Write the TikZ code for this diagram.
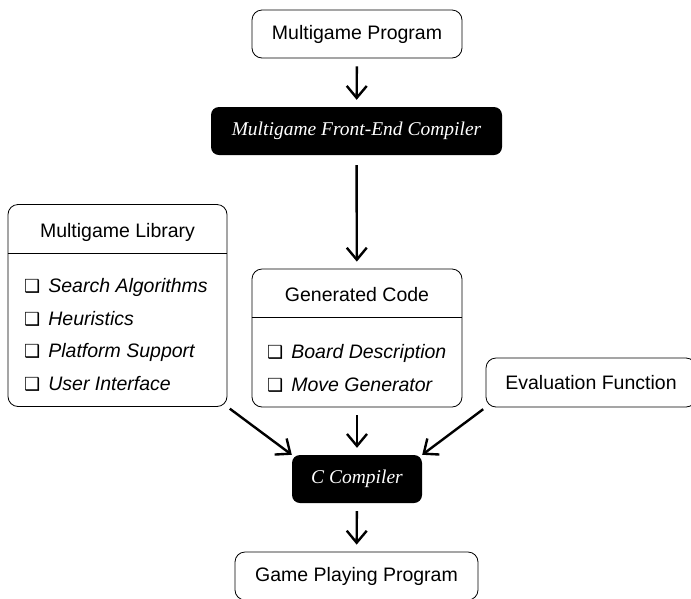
\documentclass[tikz,border=0pt]{standalone}
\usepackage{fontspec}
\setmainfont{Liberation Sans}
\newfontfamily\timesfont{Liberation Serif}
\newfontfamily\symfont{DejaVu Sans}
\usetikzlibrary{arrows.meta, positioning}
\newcommand{\chkbox}{{\symfont\fontsize{18}{18}\selectfont ❑}\hspace{8pt}}

\begin{document}
\begin{tikzpicture}[x=1pt, y=-1pt, font=\fontsize{19.5}{23}\selectfont,
    whitebox/.style={rectangle, draw, rounded corners=10pt, line width=0.8pt, inner sep=0pt},
    blackbox/.style={rectangle, fill=black, rounded corners=8pt, text=white, font=\fontsize{19.5}{23}\selectfont\timesfont\itshape},
    item/.style={anchor=base west, inner sep=0pt, font=\fontsize{19.5}{23}\selectfont\itshape},
    flow/.style={-{Straight Barb[length=12pt, width=20pt]}, line width=2.4pt, shorten <=8pt, shorten >=7pt}]
    \useasboundingbox (0,0) rectangle (691,598);
    % Nodes
    \node (prog) [whitebox, minimum width=210pt, minimum height=48pt] at (357,34) {Multigame Program};
    \node (front) [blackbox, minimum width=291pt, minimum height=48pt] at (356.5,131) {Multigame Front-End Compiler};
    \node (lib) [whitebox, minimum width=219pt, minimum height=202pt] at (117.5,305.5) {};
    \node (libtitle) at (117.5,232) {Multigame Library};
    \draw[line width=0.8pt] (lib.west |- 0,253) -- (lib.east |- 0,253);
    \foreach \t [count=\i] in {Search Algorithms, Heuristics, Platform Support, User Interface}
        \node (libitem\i) [item] at (24,260+32.5*\i) {\chkbox\t};
    \node (gen) [whitebox, minimum width=210pt, minimum height=138pt] at (357,338) {};
    \node (gentitle) at (357,295) {Generated Code};
    \draw[line width=0.8pt] (gen.west |- 0,317) -- (gen.east |- 0,317);
    \foreach \t [count=\i] in {Board Description, Move Generator}
        \node (genitem\i) [item] at (267,325+33*\i) {\chkbox\t};
    \node (eval) [whitebox, minimum width=210pt, minimum height=49pt] at (591,382.5) {Evaluation Function};
    \node (cc) [blackbox, minimum width=130pt, minimum height=48pt] at (357,479) {C Compiler};
    \node (game) [whitebox, minimum width=243pt, minimum height=48pt] at (356.5,576) {Game Playing Program};

    % Arrows
    \draw[flow] (prog) -- (front);
    \draw[flow, shorten <=10pt] (front) -- (gen);
    \draw[flow, shorten <=3pt, shorten >=0pt] (lib.south east) -- (cc.north west);
    \draw[flow] (gen) -- (cc);
    \draw[flow, shorten <=3pt, shorten >=0pt] (eval.south west) -- (cc.north east);
    \draw[flow] (cc) -- (game);
\end{tikzpicture}
\end{document}
